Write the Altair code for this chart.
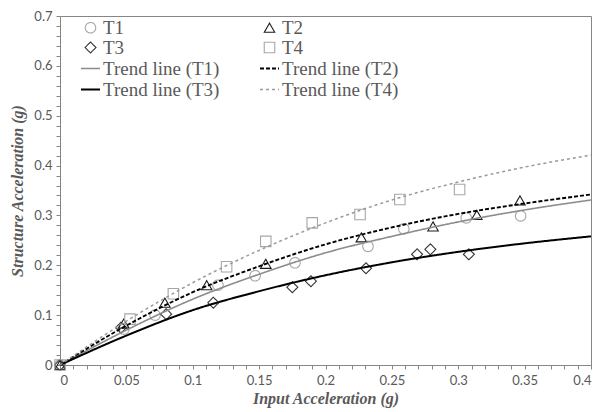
import altair as alt
import pandas as pd

# ---- measured data points ----
t1_x = [0, 0.048, 0.0716, 0.119, 0.147, 0.177, 0.232, 0.259, 0.306, 0.347]
t1_y = [0, 0.072, 0.100, 0.160, 0.179, 0.205, 0.238, 0.273, 0.295, 0.299]
t2_x = [0, 0.048, 0.079, 0.1105, 0.155, 0.227, 0.281, 0.314, 0.3465]
t2_y = [0, 0.083, 0.125, 0.160, 0.203, 0.256, 0.278, 0.301, 0.330]
t3_x = [0, 0.046, 0.080, 0.1155, 0.175, 0.189, 0.2305, 0.269, 0.279, 0.308]
t3_y = [0, 0.075, 0.102, 0.125, 0.156, 0.168, 0.194, 0.222, 0.232, 0.222]
t4_x = [0, 0.0527, 0.0854, 0.1255, 0.155, 0.190, 0.226, 0.256, 0.301]
t4_y = [0, 0.092, 0.143, 0.197, 0.248, 0.285, 0.302, 0.332, 0.352]

# ---- trend lines ----
trend_x = [0, 0.05, 0.1, 0.15, 0.2, 0.25, 0.3, 0.35, 0.4]
trend_t1 = [0, 0.070, 0.132, 0.182, 0.225, 0.258, 0.287, 0.311, 0.331]
trend_t2 = [0, 0.079, 0.146, 0.198, 0.242, 0.276, 0.303, 0.324, 0.342]
trend_t3 = [0, 0.059, 0.110, 0.148, 0.180, 0.206, 0.227, 0.244, 0.258]
trend_t4 = [0, 0.088, 0.165, 0.230, 0.285, 0.331, 0.367, 0.397, 0.421]

# legend order (filled column by column: left column first, then right column)
series = ["T1", "T3", "Trend line (T1)", "Trend line (T3)",
          "T2", "T4", "Trend line (T2)", "Trend line (T4)"]
colors = ["#a6a6a6", "#333333", "#8c8c8c", "#000000",
          "#1a1a1a", "#a6a6a6", "#000000", "#9a9a9a"]
shapes = ["circle", "diamond", "stroke", "stroke",
          "triangle-up", "square", "stroke", "stroke"]
sizes = [110, 120, 361, 361, 110, 110, 361, 361]
dashes = [[1, 0], [1, 0], [1, 0], [1, 0], [1, 0], [1, 0], [4, 2], [3, 3]]
widths = [1.1, 1.1, 1.6, 2.0, 1.1, 1.1, 1.9, 1.5]

x_ticks = [round(i * 0.01, 2) for i in range(41)]
y_ticks = [round(i * 0.02, 2) for i in range(36)]

pts = []
for name, xs, ys in [("T1", t1_x, t1_y), ("T2", t2_x, t2_y),
                     ("T3", t3_x, t3_y), ("T4", t4_x, t4_y)]:
    for a, b in zip(xs, ys):
        pts.append({"series": name, "x": a, "y": b})
pts = pd.DataFrame(pts)

lines = []
for name, ys in [("Trend line (T1)", trend_t1), ("Trend line (T2)", trend_t2),
                 ("Trend line (T3)", trend_t3), ("Trend line (T4)", trend_t4)]:
    for a, b in zip(trend_x, ys):
        lines.append({"series": name, "x": a, "y": b})
lines = pd.DataFrame(lines)

leg = alt.Legend(title=None, orient="none", legendX=20, legendY=2, columns=2,
                 columnPadding=36, rowPadding=-1.5, padding=0,
                 labelFont="Liberation Serif", labelFontSize=19,
                 labelColor="#595959", labelOffset=2, labelLimit=300)

xenc = alt.X("x:Q", scale=alt.Scale(domain=[0, 0.4], nice=False, zero=True),
             axis=alt.Axis(title="Input Acceleration (g)", values=x_ticks,
                           labelExpr="(round(datum.value*100) % 5 == 0) ? format(datum.value, '') : ''"))
yenc = alt.Y("y:Q", scale=alt.Scale(domain=[0, 0.7], nice=False),
             axis=alt.Axis(title="Structure Acceleration (g)", values=y_ticks,
                           labelExpr="(round(datum.value*100) % 10 == 0) ? format(datum.value, '') : ''"))

color = alt.Color("series:N", scale=alt.Scale(domain=series, range=colors), legend=leg)
shape = alt.Shape("series:N", scale=alt.Scale(domain=series, range=shapes), legend=leg)
size = alt.Size("series:N", scale=alt.Scale(type="ordinal", domain=series, range=sizes), legend=leg)
dash = alt.StrokeDash("series:N", scale=alt.Scale(domain=series, range=dashes), legend=leg)
sw = alt.StrokeWidth("series:N", scale=alt.Scale(type="ordinal", domain=series, range=widths), legend=leg)

points = alt.Chart(pts).mark_point(filled=False, opacity=1).encode(
    x=xenc, y=yenc, color=color, shape=shape, size=size, strokeDash=dash, strokeWidth=sw
)
trend = alt.Chart(lines).mark_line(interpolate="monotone").encode(
    x=xenc, y=yenc, color=color, strokeDash=dash, strokeWidth=sw
)

chart = alt.layer(points, trend).properties(
    width=531, height=349,
    autosize=alt.AutoSizeParams(type="none"),
    padding={"left": 52, "top": 8, "right": 4, "bottom": 45},
).configure_view(
    stroke="#868686", strokeWidth=1
).configure_axis(
    grid=False, domainColor="#868686", tickColor="#868686", tickSize=4,
    labelFont="Lato", labelFontSize=13, labelColor="#595959",
    titleFont="Liberation Serif", titleFontSize=16, titleFontStyle="italic",
    titleFontWeight="bold", titleColor="#595959",
).configure_axisX(
    labelPadding=5, titlePadding=3
).configure_axisY(
    labelPadding=4, titlePadding=8
)

chart.save("out.html", embed_options={"renderer": "svg", "actions": False})
